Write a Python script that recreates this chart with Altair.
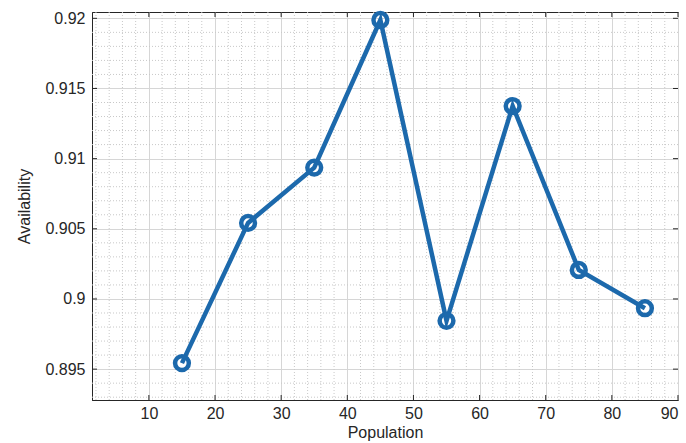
import altair as alt
import pandas as pd

# Data
populations = [15, 25, 35, 45, 55, 65, 75, 85]
availability = [0.89543, 0.90542, 0.90936, 0.91988, 0.89844, 0.91375, 0.90207, 0.89934]

x_major = [10, 20, 30, 40, 50, 60, 70, 80, 90]
y_major = [0.895, 0.9, 0.905, 0.91, 0.915, 0.92]
x_minor = [v for v in range(2, 90, 2) if v % 10 != 0]
y_minor = [round(0.893 + 0.001 * i, 3) for i in range(28) if (i + 3) % 5 != 0]

W, H = 586, 388
BLUE = "#1c69ac"
FONT = "Liberation Sans"

df = pd.DataFrame({"Population": populations, "Availability": availability})
dxm = pd.DataFrame({"v": x_minor})
dym = pd.DataFrame({"v": y_minor})
dxM = pd.DataFrame({"v": x_major})
dyM = pd.DataFrame({"v": y_major})

xs = alt.Scale(domain=[1.4, 90], nice=False, zero=False)
ys = alt.Scale(domain=[0.8928, 0.92045], nice=False, zero=False)

x_axis = alt.Axis(values=x_major, title="Population", grid=True, gridColor="#d6d6d6",
                  gridWidth=1, ticks=False, labelFontSize=16, titleFontSize=16,
                  labelPadding=5, titlePadding=3, labelFont=FONT, titleFont=FONT,
                  labelColor="#262626", titleColor="#262626", titleFontWeight="normal",
                  domainColor="#262626", format="d")
y_axis = alt.Axis(values=y_major, title="Availability", grid=True, gridColor="#d6d6d6",
                  gridWidth=1, ticks=False, labelFontSize=16, titleFontSize=16,
                  labelPadding=7, titlePadding=12, labelFont=FONT, titleFont=FONT,
                  labelColor="#262626", titleColor="#262626", titleFontWeight="normal",
                  domainColor="#262626", labelExpr="format(datum.value, '~g')")

minor_x = alt.Chart(dxm).mark_rule(color="#c8c8c8", strokeDash=[1, 2], strokeWidth=1).encode(
    x=alt.X("v:Q", scale=xs, axis=x_axis), y=alt.value(0), y2=alt.value(H))
minor_y = alt.Chart(dym).mark_rule(color="#c8c8c8", strokeDash=[1, 2], strokeWidth=1).encode(
    y=alt.Y("v:Q", scale=ys, axis=y_axis), x=alt.value(0), x2=alt.value(W))

tick_style = dict(color="#262626", strokeWidth=1)
tb = alt.Chart(dxM).mark_rule(**tick_style).encode(x=alt.X("v:Q", scale=xs), y=alt.value(H), y2=alt.value(H - 5))
tt = alt.Chart(dxM).mark_rule(**tick_style).encode(x=alt.X("v:Q", scale=xs), y=alt.value(0), y2=alt.value(5))
tl = alt.Chart(dyM).mark_rule(**tick_style).encode(y=alt.Y("v:Q", scale=ys), x=alt.value(0), x2=alt.value(5))
tr = alt.Chart(dyM).mark_rule(**tick_style).encode(y=alt.Y("v:Q", scale=ys), x=alt.value(W), x2=alt.value(W - 5))

line = alt.Chart(df).mark_line(color=BLUE, strokeWidth=4.5).encode(
    x=alt.X("Population:Q", scale=xs), y=alt.Y("Availability:Q", scale=ys))
pts = alt.Chart(df).mark_point(color=BLUE, filled=False, size=190, strokeWidth=4.5, opacity=1).encode(
    x=alt.X("Population:Q", scale=xs), y=alt.Y("Availability:Q", scale=ys))

chart = alt.layer(minor_x, minor_y, tb, tt, tl, tr, line, pts).properties(
    width=W, height=H,
    padding={"left": 92, "top": 12, "right": 8, "bottom": 43},
    autosize=alt.AutoSizeParams(type="none"),
    background="white",
).configure_view(stroke="#262626", strokeWidth=1)

chart.save("out.html", embed_options={"renderer": "svg", "actions": False})
